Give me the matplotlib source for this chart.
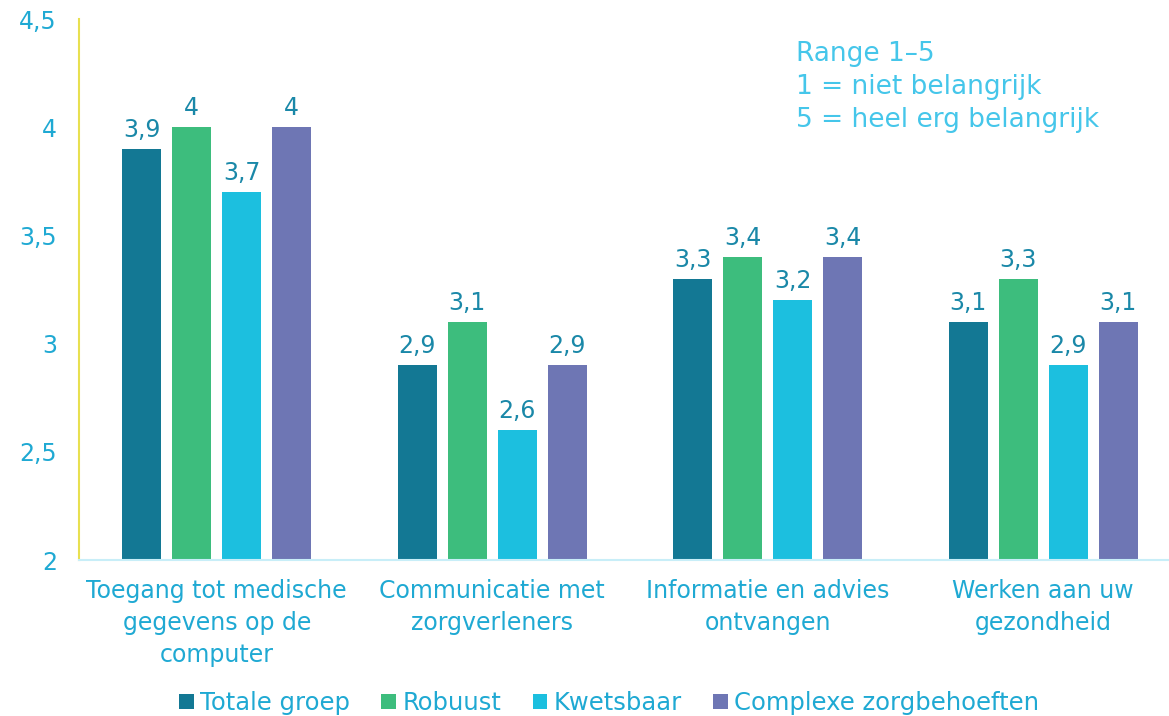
import matplotlib.pyplot as plt
import numpy as np

categories = ['Toegang tot medische\ngegevens op de\ncomputer',
              'Communicatie met\nzorgverleners',
              'Informatie en advies\nontvangen',
              'Werken aan uw\ngezondheid']
groups = ['Totale groep', 'Robuust', 'Kwetsbaar', 'Complexe zorgbehoeften']
totale = [3.9, 2.9, 3.3, 3.1]
robuust = [4.0, 3.1, 3.4, 3.3]
kwetsbaar = [3.7, 2.6, 3.2, 2.9]
complexe = [4.0, 2.9, 3.4, 3.1]
yticks = [2, 2.5, 3, 3.5, 4, 4.5]
note = ['Range 1–5', '1 = niet belangrijk', '5 = heel erg belangrijk']

colors = ['#137894', '#3dbd7d', '#1cbfdf', '#6e76b4']
tick_color = '#1fa9d3'
label_color = '#1a88a8'

plt.rcParams['font.family'] = 'DejaVu Sans'

fig = plt.figure(figsize=(11.69, 7.16), dpi=100)
ax = fig.add_axes([79 / 1169, 156 / 716, 1102 / 1169, 541 / 716])

x = np.arange(len(categories))
width = 0.1415
pitch = 0.1815
series = [totale, robuust, kwetsbaar, complexe]
for i, (vals, name) in enumerate(zip(series, groups)):
    pos = x + (i - 1.5) * pitch
    bars = ax.bar(pos, [v - 2 for v in vals], width, bottom=2, color=colors[i], label=name)
    for b, v in zip(bars, vals):
        ax.annotate(('%g' % v).replace('.', ','), (b.get_x() + b.get_width() / 2, v),
                    xytext=(0, 8.6), textcoords='offset points', ha='center', va='baseline',
                    fontsize=17, color=label_color)

ax.set_xlim(-0.5, 3.5)
ax.set_ylim(2, 4.5)
ax.set_yticks(yticks)
ax.set_yticklabels([('%g' % t).replace('.', ',') for t in yticks])
ax.set_xticks(x)
ax.set_xticklabels(categories, linespacing=1.4)
ax.tick_params(axis='y', length=0, pad=16, labelsize=17, labelcolor=tick_color)
ax.tick_params(axis='x', length=0, pad=14, labelsize=17, labelcolor=tick_color)

for s in ['top', 'right']:
    ax.spines[s].set_visible(False)
ax.spines['left'].set_color('#e8e050')
ax.spines['left'].set_linewidth(1.5)
ax.spines['bottom'].set_color('#c8eef8')
ax.spines['bottom'].set_linewidth(1.5)

# note in the top right corner
for k, line in enumerate(note):
    fig.text(796 / 1169, 1 - (61 + 33 * k) / 716, line, ha='left', va='baseline',
             fontsize=19, color='#45c6ea')

fig.legend(loc='center', bbox_to_anchor=(609 / 1169, 1 - 703 / 716), ncol=4,
           frameon=False, fontsize=17.5, labelcolor=tick_color, handlelength=0.6,
           handleheight=0.6, handletextpad=0.25, columnspacing=1.3)

fig.savefig('out.png', dpi=100)
